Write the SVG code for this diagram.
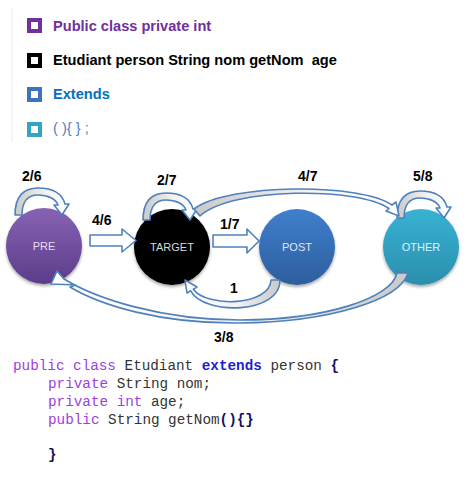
<svg xmlns="http://www.w3.org/2000/svg" width="466" height="478" viewBox="0 0 466 478">
<defs>
<linearGradient id="gPre" x1="0" y1="0" x2="0" y2="1"><stop offset="0" stop-color="#8763B3"/><stop offset="1" stop-color="#5B3D8A"/></linearGradient>
<linearGradient id="gPost" x1="0" y1="0" x2="0" y2="1"><stop offset="0" stop-color="#3F7FCC"/><stop offset="1" stop-color="#2D5E9E"/></linearGradient>
<linearGradient id="gOther" x1="0" y1="0" x2="0" y2="1"><stop offset="0" stop-color="#38B2D4"/><stop offset="1" stop-color="#2A8FAD"/></linearGradient>
<linearGradient id="tailL" x1="0" y1="0" x2="1" y2="0"><stop offset="0" stop-color="#C9C9C9"/><stop offset="0.55" stop-color="#F2F2F2"/><stop offset="1" stop-color="#FFFFFF"/></linearGradient>
<linearGradient id="tailR" x1="1" y1="0" x2="0" y2="0"><stop offset="0" stop-color="#C9C9C9"/><stop offset="0.45" stop-color="#F2F2F2"/><stop offset="1" stop-color="#FFFFFF"/></linearGradient>
<filter id="sh" x="-20%" y="-20%" width="140%" height="150%"><feDropShadow dx="0" dy="2" stdDeviation="1.5" flood-color="#000" flood-opacity="0.35"/></filter>
<path id="loop" d="M0 0 L7 0 C7 -14 13 -20 23 -20 C33 -20 41 -16 43 -10 L39 -10 L47 0 L54 -11 L50 -11 C47 -22 37 -27 23 -27 C9 -27 0 -20 0 0 Z"/>
</defs>
<style>
.leg{font-family:"Liberation Sans",Arial,sans-serif;font-weight:bold;font-size:14.6px;white-space:pre}
.sq{fill:#fff;stroke-width:4}
.node text{font-family:"Liberation Sans",Arial,sans-serif;font-size:11px;text-anchor:middle}
.lbl{font-family:"Liberation Sans",Arial,sans-serif;font-weight:bold;font-size:14px;fill:#000}
.arr{stroke:#4F81BD;stroke-width:1.6;stroke-linejoin:round}
.code{font-family:"Liberation Mono","Courier New",monospace;font-size:14.3px;fill:#333}
.kw{fill:#9B40E0}
.ext{fill:#1F1FCF;font-weight:bold}
.br{fill:#101060;font-weight:bold}
</style>
<rect width="466" height="478" fill="#fff"/>
<line x1="12" y1="8" x2="12" y2="142" stroke="#ECECEC" stroke-width="1"/>
<g id="legend">
<rect class="sq" x="29" y="20" width="11" height="11" stroke="#7030A0"/>
<text class="leg" x="53" y="31" fill="#7030A0">Public class private int</text>
<rect class="sq" x="29" y="55" width="11" height="11" stroke="#000"/>
<text class="leg" x="53" y="65" fill="#000">Etudiant person String nom getNom  age</text>
<rect class="sq" x="29" y="89" width="11" height="11" stroke="#3C74BE"/>
<text class="leg" x="53" y="99" fill="#0070C0">Extends</text>
<rect class="sq" x="29" y="124" width="11" height="11" stroke="#35A3C4"/>
<text class="leg" x="53" y="133" fill="#4F81BD" style="font-weight:normal">( ){ } ;</text>
</g>
<g id="nodes">
<g id="pre" class="node"><circle cx="44" cy="246" r="38" fill="url(#gPre)" filter="url(#sh)"/><text x="44" y="250" fill="#E6DDF2">PRE</text></g>
<g id="target" class="node"><circle cx="172" cy="247" r="38" fill="#000" filter="url(#sh)"/><text x="172" y="251" fill="#D9D9D9">TARGET</text></g>
<g id="post" class="node"><circle cx="297" cy="247" r="38" fill="url(#gPost)" filter="url(#sh)"/><text x="297" y="251" fill="#DCE6F4">POST</text></g>
<g id="other" class="node"><circle cx="421" cy="247" r="38" fill="url(#gOther)" filter="url(#sh)"/><text x="421" y="251" fill="#DDF1F7">OTHER</text></g>
</g>
<g id="connectors">
<use href="#loop" x="15" y="215" class="arr" fill="url(#tailL)"/>
<use href="#loop" x="143" y="220" class="arr" fill="url(#tailL)"/>
<use href="#loop" x="397" y="218" class="arr" fill="url(#tailL)"/>
<polygon class="arr" fill="#fff" points="90,235 122,235 122,229 136,240.5 122,252 122,246 90,246"/>
<polygon class="arr" fill="#fff" points="213,235 247,235 247,229 259,241 247,253 247,247 213,247"/>
<path class="arr" fill="url(#tailL)" d="M194 209 C228 183 362 183 392 205 L396 202 L399 216 L386 211 L389 208.5 C358 187 232 187 200 216 Z"/>
<path class="arr" fill="url(#tailR)" d="M271 280 L280 280 C281 314 204 316 190.7 290.8 L187 293 L185 280 L197 287 L193.3 289.2 C207 308 270 306 271 280 Z"/>
<path class="arr" fill="url(#tailR)" d="M408 273 C400 300 330 322 240 323 C160 324 100 305 70 287 L76 285 L51 284 L57 271 L64 279 C95 298 160 320 240 320 C325 320 392 298 397 273 Z"/>
</g>
<g id="labels">
<text class="lbl" x="22" y="181">2/6</text>
<text class="lbl" x="92" y="225">4/6</text>
<text class="lbl" x="157" y="185">2/7</text>
<text class="lbl" x="220" y="229">1/7</text>
<text class="lbl" x="298" y="181">4/7</text>
<text class="lbl" x="413" y="181">5/8</text>
<text class="lbl" x="230" y="293">1</text>
<text class="lbl" x="214" y="342">3/8</text>
</g>
<g id="code" class="code">
<text x="13" y="370"><tspan class="kw">public class</tspan> Etudiant <tspan class="ext">extends</tspan> person <tspan class="br">{</tspan></text>
<text x="48" y="388"><tspan class="kw">private</tspan> String nom;</text>
<text x="48" y="406"><tspan class="kw">private int</tspan> age;</text>
<text x="48" y="424"><tspan class="kw">public</tspan> String getNom<tspan class="br">(){}</tspan></text>
<text x="48" y="459" class="br">}</text>
</g>
</svg>
